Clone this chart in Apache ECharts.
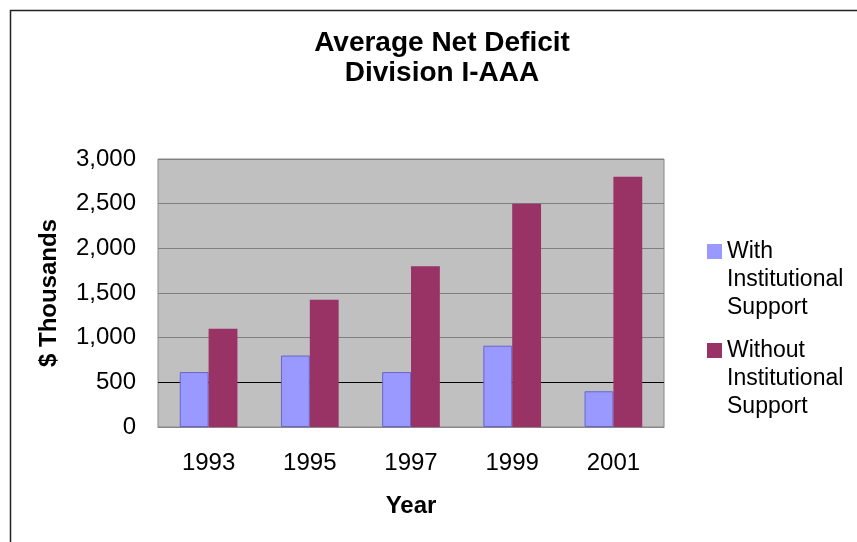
<!DOCTYPE html>
<html>
<head>
<meta charset="utf-8">
<script src="https://cdn.jsdelivr.net/npm/echarts@6/dist/echarts.min.js"></script>
<style>
  html, body { margin: 0; padding: 0; background: #fff; }
  #chart { width: 857px; height: 542px; }
</style>
</head>
<body>
<div id="chart"></div>
<script>
const years = ['1993', '1995', '1997', '1999', '2001']
const withSupport = [615, 800, 615, 910, 400]
const withoutSupport = [1100, 1425, 1800, 2500, 2800]
const yTicks = [0, 500, 1000, 1500, 2000, 2500, 3000]

const font = '"Liberation Sans", Arial, sans-serif'

const myChart = echarts.init(document.getElementById('chart'))

// two blank lines on top so the first text line sits beside the swatch
const legendBase = {
  left: 707,
  padding: 0,
  itemWidth: 15,
  itemHeight: 15,
  icon: 'rect',
  itemStyle: { borderWidth: 0 },
  formatter: name => '\n\n' + name,
  textStyle: {
    fontFamily: font,
    fontSize: 23,
    color: '#000',
    lineHeight: 28
  }
}

myChart.setOption({
  animation: false,
  backgroundColor: '#fff',
  title: {
    text: 'Average Net Deficit\nDivision I-AAA',
    left: 442,
    top: 28,
    padding: 0,
    textAlign: 'center',
    textStyle: {
      fontFamily: font,
      fontSize: 28,
      fontWeight: 'bold',
      color: '#000',
      lineHeight: 30
    }
  },
  graphic: [
    {
      type: 'rect',
      shape: { x: 10.5, y: 10.5, width: 900, height: 600 },
      style: { fill: 'none', stroke: '#222', lineWidth: 1.5 },
      silent: true
    }
  ],
  legend: [
    Object.assign({}, legendBase, { data: ['With\nInstitutional\nSupport'], top: 181.5 }),
    Object.assign({}, legendBase, { data: ['Without\nInstitutional\nSupport'], top: 280.5 })
  ],
  grid: {
    left: 158,
    right: 193,
    top: 159,
    bottom: 115,
    show: true,
    backgroundColor: '#C0C0C0',
    borderColor: '#888',
    borderWidth: 1
  },
  xAxis: {
    type: 'category',
    data: years,
    name: 'Year',
    nameLocation: 'middle',
    nameGap: 67,
    nameTextStyle: { fontFamily: font, fontSize: 24, fontWeight: 'bold', color: '#000' },
    axisTick: { show: false },
    axisLine: { lineStyle: { color: '#888' } },
    axisLabel: { fontFamily: font, fontSize: 24, color: '#000', margin: 24 }
  },
  yAxis: {
    type: 'value',
    min: yTicks[0],
    max: yTicks[yTicks.length - 1],
    interval: 500,
    name: '$ Thousands',
    nameLocation: 'middle',
    nameRotate: 90,
    nameGap: 97,
    nameTextStyle: { fontFamily: font, fontSize: 24, fontWeight: 'bold', color: '#000' },
    axisLine: { show: false },
    axisTick: { show: false },
    axisLabel: {
      fontFamily: font,
      fontSize: 24,
      color: '#000',
      margin: 22,
      formatter: v => v.toLocaleString('en-US')
    },
    splitLine: {
      lineStyle: {
        color: ['#808080', '#000000', '#808080', '#808080', '#808080', '#808080', '#808080'],
        width: 1
      }
    }
  },
  series: [
    {
      name: 'With\nInstitutional\nSupport',
      type: 'bar',
      data: withSupport,
      barGap: '0%',
      barCategoryGap: '43%',
      itemStyle: { color: '#9999FF', borderColor: '#6666CC', borderWidth: 1 }
    },
    {
      name: 'Without\nInstitutional\nSupport',
      type: 'bar',
      data: withoutSupport,
      barGap: '0%',
      barCategoryGap: '43%',
      itemStyle: { color: '#993366' }
    }
  ]
})
</script>
</body>
</html>
